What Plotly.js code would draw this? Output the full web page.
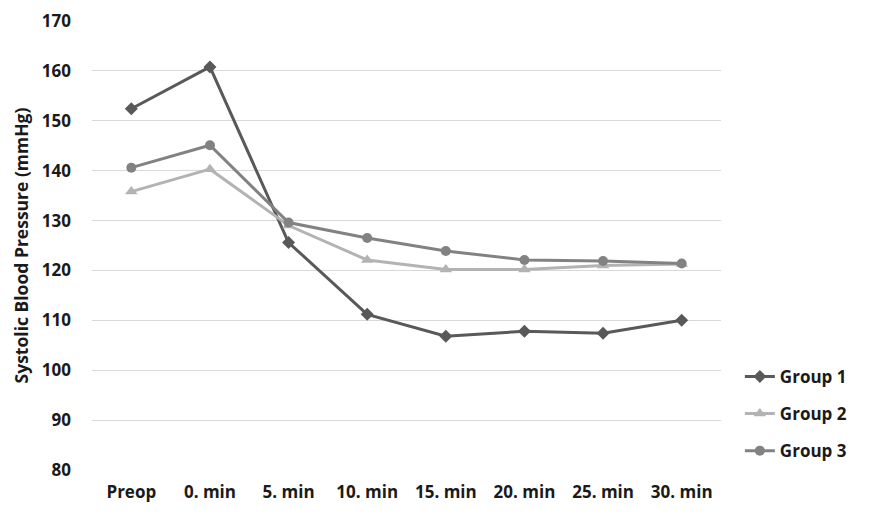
<!DOCTYPE html>
<html><head><meta charset="utf-8">
<script src="https://cdn.plot.ly/plotly-3.0.1.min.js"></script>
<style>body{margin:0;background:#fff}#c{width:874px;height:524px}</style>
</head><body><div id="c"></div>
<script>
const categories = ["Preop","0. min","5. min","10. min","15. min","20. min","25. min","30. min"];
const group1 = [152.4,160.8,125.6,111.2,106.8,107.8,107.4,110.0];
const group2 = [135.8,140.3,129.0,122.1,120.2,120.2,121.0,121.3];
const group3 = [140.6,145.1,129.6,126.5,123.9,122.1,121.9,121.4];
const seriesNames = ["Group 1","Group 2","Group 3"];
const yTicks = [80,90,100,110,120,130,140,150,160,170];

const font = "'Open Sans', Lato, sans-serif";
function tr(y, name, color, symbol, size, g){
  return {x: categories, y: y, name: name, type: 'scatter', mode: 'lines+markers',
    legendgroup: g,
    line: {color: color, width: 3}, marker: {color: color, symbol: symbol, size: size}};
}
const data = [
  tr(group1, seriesNames[0], '#595959', 'diamond', 10, 'a'),
  tr(group2, seriesNames[1], '#b3b3b3', 'triangle-up', 11, 'b'),
  tr(group3, seriesNames[2], '#828282', 'circle', 10, 'c')
];
const tf = {family: font, size: 17, weight: 'bold', color: '#1a1a1a'};
const layout = {
  width: 874, height: 524,
  margin: {l: 92, r: 153, t: 21, b: 54},
  paper_bgcolor: '#fff', plot_bgcolor: '#fff',
  font: {family: font, color: '#1a1a1a', size: 16},
  xaxis: {type: 'category', range: [-0.5, 7.5], showgrid: false, zeroline: false, showline: false,
    ticks: '', tickfont: tf, ticklabelstandoff: 10},
  yaxis: {range: [80, 170], tickvals: yTicks, showgrid: true, gridcolor: '#d9d9d9', gridwidth: 1,
    zeroline: false, showline: false, ticks: '',
    tickfont: tf, ticklabelstandoff: 20,
    title: {text: 'Systolic Blood Pressure (mmHg)', font: {family: font, size: 17.5, weight: 'bold', color: '#1a1a1a'}, standoff: 8}},
  legend: {x: 1.03, y: 0.125, xanchor: 'left', yanchor: 'middle', traceorder: 'grouped', tracegroupgap: 12,
    font: {family: font, size: 17, weight: 'bold', color: '#1a1a1a'}, bgcolor: 'rgba(0,0,0,0)'},
  showlegend: true
};
Plotly.newPlot('c', data, layout, {displayModeBar: false, staticPlot: true});
</script>
</body></html>
